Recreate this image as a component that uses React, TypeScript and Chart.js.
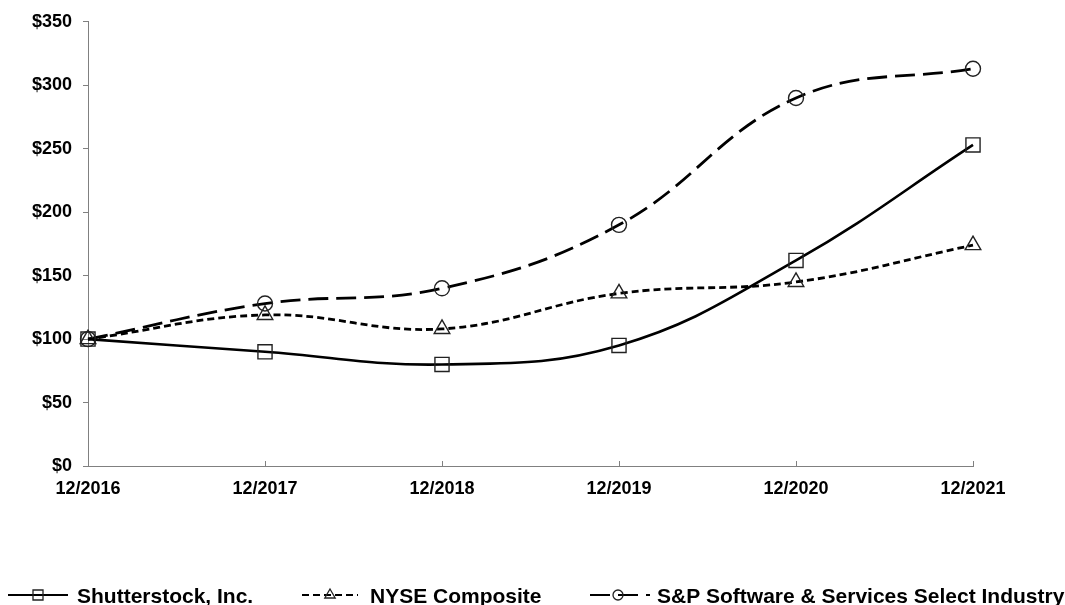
import React, { useEffect, useRef } from "react";
import { Chart, registerables } from "chart.js";

Chart.register(...registerables);

const categories = ["12/2016", "12/2017", "12/2018", "12/2019", "12/2020", "12/2021"];
const shutterstock = [100, 90, 80, 95, 162, 253];
const nyse = [100, 119, 108, 136, 145, 174];
const spSoftware = [100, 128, 140, 190, 290, 313];
const seriesNames = ["Shutterstock, Inc.", "NYSE Composite", "S&P Software & Services Select Industry"];
const yTicksMin = 0;
const yTicksMax = 350;
const yTickStep = 50;

const FONT = "'Liberation Sans', Arial, sans-serif";

const legendPlugin = {
  id: "customLegend",
  afterDraw(chart: any) {
    const ctx = chart.ctx;
    const items = [
      { x0: 8, x1: 68, mx: 38, tx: 77 },
      { x0: 302, x1: 358, mx: 330, tx: 370 },
      { x0: 590, x1: 650, mx: 618, tx: 657 },
    ];
    const y = 595;
    chart.data.datasets.forEach((ds: any, i: number) => {
      const it = items[i];
      ctx.save();
      ctx.strokeStyle = "#000";
      ctx.lineWidth = 2.2;
      ctx.setLineDash(ds.borderDash || []);
      ctx.beginPath();
      ctx.moveTo(it.x0, y);
      ctx.lineTo(it.x1, y);
      ctx.stroke();
      ctx.setLineDash([]);
      ctx.lineWidth = 1.3;
      ctx.strokeStyle = "#222";
      ctx.fillStyle = "#fff";
      const r = 6;
      ctx.beginPath();
      if (ds.pointStyle === "rect") {
        ctx.rect(it.mx - 5, y - 5, 10, 10);
      } else if (ds.pointStyle === "triangle") {
        ctx.moveTo(it.mx, y - r);
        ctx.lineTo(it.mx + r * 0.866, y + r * 0.5);
        ctx.lineTo(it.mx - r * 0.866, y + r * 0.5);
        ctx.closePath();
      } else {
        ctx.arc(it.mx, y, 5, 0, Math.PI * 2);
      }
      ctx.stroke();
      ctx.font = `bold 21px ${FONT}`;
      ctx.fillStyle = "#000";
      ctx.textBaseline = "alphabetic";
      ctx.textAlign = "left";
      ctx.fillText(ds.label, it.tx, 603);
      ctx.restore();
    });
  },
};

const innerTicksPlugin = {
  id: "innerTicks",
  afterDraw(chart: any) {
    const ctx = chart.ctx;
    const xs = chart.scales.x;
    const bottom = chart.chartArea.bottom;
    ctx.save();
    ctx.strokeStyle = "#808080";
    ctx.lineWidth = 1;
    xs.ticks.forEach((_t: any, i: number) => {
      const px = Math.round(xs.getPixelForTick(i)) + 0.5;
      ctx.beginPath();
      ctx.moveTo(px, bottom);
      ctx.lineTo(px, bottom - 5);
      ctx.stroke();
    });
    ctx.restore();
  },
};

export default function App() {
  const ref = useRef<HTMLCanvasElement>(null);
  useEffect(() => {
    if (!ref.current) return;
    const common = {
      borderColor: "#000",
      pointBorderColor: "#222",
      pointBackgroundColor: "rgba(0,0,0,0)",
      pointBorderWidth: 1.4,
      tension: 0.4,
      fill: false,
    };
    const chart = new Chart(ref.current, {
      type: "line",
      data: {
        labels: categories,
        datasets: [
          {
            ...common,
            label: seriesNames[0],
            data: shutterstock,
            borderWidth: 2.6,
            pointStyle: "rect",
            pointRadius: 10,
          },
          {
            ...common,
            label: seriesNames[1],
            data: nyse,
            borderWidth: 2.8,
            borderDash: [7, 4],
            pointStyle: "triangle",
            pointRadius: 9,
          },
          {
            ...common,
            label: seriesNames[2],
            data: spSoftware,
            borderWidth: 2.8,
            borderDash: [20, 8],
            pointStyle: "circle",
            pointRadius: 7.5,
          },
        ],
      } as any,
      options: {
        animation: false,
        responsive: false,
        maintainAspectRatio: false,
        layout: { padding: { left: 0, top: 21, right: 92, bottom: 99 } },
        plugins: {
          legend: { display: false },
          tooltip: { enabled: false },
        },
        scales: {
          x: {
            offset: false,
            afterFit: (s: any) => {
              s.height = 40;
            },
            border: { color: "#808080", width: 1 },
            grid: { drawOnChartArea: false, drawTicks: false },
            ticks: {
              padding: 12,
              color: "#000",
              maxRotation: 0,
              font: { family: FONT, size: 18, weight: "bold" },
            },
          },
          y: {
            min: yTicksMin,
            max: yTicksMax,
            afterFit: (s: any) => {
              s.width = 88;
            },
            border: { color: "#808080", width: 1 },
            grid: { drawOnChartArea: false, drawTicks: true, tickLength: 5, color: "#808080" },
            ticks: {
              stepSize: yTickStep,
              padding: 11,
              color: "#000",
              font: { family: FONT, size: 18, weight: "bold" },
              callback: (v: any) => "$" + v,
            },
          },
        },
      } as any,
      plugins: [legendPlugin, innerTicksPlugin],
    });
    return () => chart.destroy();
  }, []);
  return (
    <div style={{ position: "absolute", left: 0, top: 0, width: 1065, height: 605, background: "#fff" }}>
      <canvas ref={ref} width={1065} height={605} style={{ width: 1065, height: 605 }} />
    </div>
  );
}
